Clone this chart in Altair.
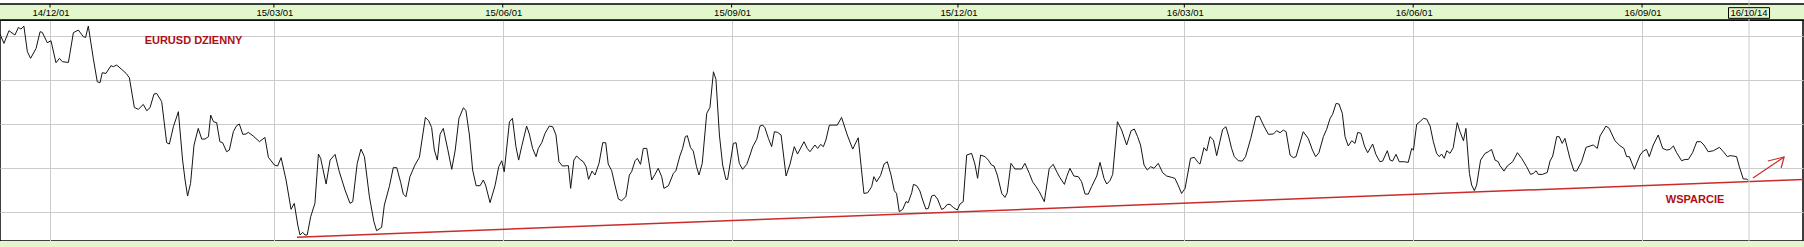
import altair as alt
import pandas as pd

# ---------------- data ----------------
# time is stored as days counted from 2014-12-01
days_a = [-20.1,-18.5,-16.5,-14.1,-12.7,-11.7,-10.5,-9.1,-7.8,-5.6,-4.0,-3.1,-1.1,0.4,2.4,3.8,5.0,7.4,9.4,11.4,13.4,14.3,15.4,17.4,19.0,20.1,21.0,22.5,24.5,25.5,26.8,28.8,30.6,31.9,33.9,35.5,37.5,38.9,40.2,41.8,42.9,44.9,46.9,48.0,49.6,51.6,53.3,54.3,55.3,56.5,57.9,59.6,61.0,62.3,63.7,64.6,65.7,67.0,68.3,69.4,71.0,72.1,73.7,75.0,76.1,77.5,78.8,79.7,81.7,84.2,86.4,87.8,90.2,91.5,92.9,94.9,96.9,98.2,99.6]
vals_a = [1.2418,1.2333,1.2448,1.2409,1.2478,1.2463,1.2490,1.2257,1.2197,1.2287,1.2439,1.2433,1.2339,1.2357,1.2157,1.2197,1.2166,1.2160,1.2430,1.2454,1.2394,1.2387,1.2490,1.2197,1.1984,1.1975,1.2066,1.2060,1.2130,1.2121,1.2136,1.2097,1.2060,1.2021,1.1751,1.1733,1.1778,1.1721,1.1748,1.1872,1.1878,1.1803,1.1430,1.1418,1.1575,1.1712,1.1272,1.1091,1.0945,1.1060,1.1409,1.1560,1.1463,1.1463,1.1485,1.1681,1.1621,1.1612,1.1439,1.1430,1.1348,1.1363,1.1530,1.1584,1.1600,1.1506,1.1509,1.1524,1.1491,1.1439,1.1478,1.1297,1.1227,1.1218,1.1294,1.1091,1.0824,1.0878,1.0682]

days_b = [100.5,101.6,102.5,103.4,104.8,106.5,107.9,108.8,111.0,112.6,114.6,116.3,118.6,120.6,121.7,123.5,125.0,126.4,128.4,130.2,131.3,133.3,134.4,136.4,138.0,139.4,141.0,142.0,143.1,144.7,146.7,148.5,150.9,152.2,153.4,154.5,155.7,156.8,158.1,159.9,161.5,162.9,164.4,166.2,167.2,168.6,169.9,171.3,172.9,174.2,175.1,176.9,178.9,180.4,181.6,182.6,184.7,185.9,187.3,188.4,189.6,191.6,192.7,194.0,195.4,196.3,197.7,199.0,200.7,202.1,203.4,204.6,206.0,207.7,208.4,209.3,210.6,211.7,213.1,214.4,215.5,216.5,217.9,219.1,220.7]
vals_b = [1.0591,1.0615,1.0591,1.0591,1.0757,1.0879,1.1327,1.1288,1.1054,1.1272,1.1324,1.1166,1.1000,1.0879,1.0894,1.1242,1.1372,1.1303,1.0939,1.0712,1.0630,1.0660,1.0863,1.1030,1.1203,1.1203,1.1066,1.0963,1.0939,1.1121,1.1227,1.1297,1.1660,1.1630,1.1569,1.1363,1.1272,1.1506,1.1560,1.1369,1.1188,1.1363,1.1651,1.1748,1.1721,1.1500,1.1182,1.1039,1.1039,1.1091,1.1045,1.0885,1.1039,1.1212,1.1266,1.1166,1.1621,1.1651,1.1394,1.1272,1.1394,1.1581,1.1509,1.1378,1.1303,1.1378,1.1430,1.1515,1.1581,1.1575,1.1500,1.1257,1.1218,1.1221,1.1221,1.1015,1.1272,1.1309,1.1278,1.1257,1.1212,1.1097,1.1172,1.1136,1.1242]

days_c = [222.2,223.4,224.4,225.8,227.1,228.5,229.8,231.5,232.9,233.8,235.2,236.1,237.4,238.5,239.9,241.9,243.2,244.5,245.9,246.8,248.6,250.6,251.6,253.2,254.3,255.4,256.2,257.5,258.6,259.9,260.9,262.2,264.0,265.3,266.7,267.7,269.1,270.4,271.7,272.4,274.7,275.8,277.1,278.4,280.1,281.4,282.5,284.1,285.4,286.5,287.4,288.8,290.1,291.2,292.5,293.9,295.9,297.5,299.2,300.5,303.1,304.4,305.5,307.5,308.6,309.8,310.9,311.9,313.3,314.9,316.5,318.2,320.5,322.7,324.9,327.2,328.7,330.3,331.2,332.3,333.9,335.3,336.6,338.1,339.4,340.3,341.4]
vals_c = [1.1430,1.1430,1.1236,1.1175,1.1045,1.0918,1.0903,1.0939,1.1136,1.1166,1.1266,1.1288,1.1233,1.1378,1.1378,1.1091,1.1142,1.1197,1.1121,1.1015,1.1039,1.1151,1.1175,1.1309,1.1378,1.1485,1.1494,1.1385,1.1354,1.1212,1.1136,1.1242,1.1697,1.1751,1.2075,1.2006,1.1500,1.1227,1.1097,1.1097,1.1424,1.1430,1.1242,1.1188,1.1233,1.1318,1.1394,1.1460,1.1581,1.1590,1.1566,1.1469,1.1394,1.1530,1.1524,1.1500,1.1127,1.1236,1.1394,1.1327,1.1439,1.1378,1.1348,1.1409,1.1378,1.1415,1.1394,1.1454,1.1590,1.1590,1.1590,1.1660,1.1500,1.1372,1.1475,1.0969,1.0975,1.1030,1.1121,1.1075,1.1133,1.1236,1.1257,1.1136,1.0994,1.0969,1.0803]

days_d = [342.8,344.1,345.0,346.4,347.1,348.4,349.7,350.8,352.1,353.1,354.4,355.5,356.8,358.4,359.4,360.7,361.8,363.1,364.7,365.8,367.1,368.5,370.5,371.8,372.9,374.1,375.9,377.2,378.5,379.5,380.8,382.6,383.9,384.8,386.3,387.9,389.7,390.6,391.9,393.7,395.0,396.4,397.7,399.7,401.7,403.3,404.9,406.0,407.8,408.7,410.0,411.6,413.4,414.7,416.1,417.4,418.7,420.8,422.1,423.7,424.8,426.1,427.2,429.1,430.8,432.8,434.6,435.9,437.2,438.4,439.8,441.1,442.5,443.8,445.5,447.3,448.9,450.9,452.2,453.3,454.9,456.3,458.5,460.0,461.6]
vals_d = [1.0824,1.0894,1.0885,1.0975,1.1051,1.1039,1.0991,1.0909,1.0827,1.0833,1.0945,1.0954,1.0918,1.0824,1.0833,1.0869,1.0869,1.0842,1.0818,1.0872,1.0894,1.1318,1.1333,1.1236,1.1106,1.1318,1.1303,1.1272,1.1227,1.1218,1.1136,1.0969,1.0933,1.0975,1.1242,1.1191,1.1191,1.1191,1.1242,1.1151,1.1075,1.1030,1.0985,1.0894,1.1197,1.1233,1.1157,1.1112,1.1051,1.1121,1.1197,1.1127,1.1121,1.1075,1.0963,1.0963,1.1030,1.1127,1.1251,1.1106,1.1054,1.1085,1.1142,1.1621,1.1545,1.1409,1.1539,1.1554,1.1485,1.1409,1.1227,1.1182,1.1212,1.1197,1.1242,1.1157,1.1127,1.1115,1.1106,1.1054,1.0969,1.1015,1.1288,1.1297,1.1248]

days_e = [462.3,463.9,465.0,466.3,467.7,469.0,471.4,472.7,473.7,475.0,476.1,477.7,479.3,480.6,482.7,484.8,486.1,488.0,489.8,491.8,493.1,494.5,495.8,496.9,498.5,499.8,500.9,503.8,505.8,507.5,508.8,510.1,511.9,513.2,514.6,515.6,517.0,518.2,519.5,520.6,521.9,523.3,524.6,525.7,527.0,528.4,529.7,531.7,533.0,534.6,535.7,537.6,538.7,539.7,541.1,542.4,544.4,546.0,547.4,548.1,549.4,550.7,552.1,553.4,554.8,556.1,557.4,558.5,559.4,560.5,561.5,562.8,564.1,565.7,566.8,568.2,569.2,570.6,571.5,572.6,573.5,575.1,576.9,578.2,579.5,580.9,582.2]
vals_e = [1.1236,1.1385,1.1354,1.1485,1.1454,1.1312,1.1551,1.1575,1.1500,1.1378,1.1303,1.1266,1.1263,1.1303,1.1469,1.1666,1.1672,1.1581,1.1506,1.1509,1.1539,1.1521,1.1545,1.1530,1.1318,1.1294,1.1303,1.1530,1.1469,1.1363,1.1303,1.1339,1.1485,1.1551,1.1651,1.1688,1.1787,1.1781,1.1697,1.1485,1.1400,1.1448,1.1424,1.1524,1.1515,1.1400,1.1339,1.1418,1.1324,1.1257,1.1263,1.1357,1.1272,1.1263,1.1324,1.1257,1.1257,1.1251,1.1378,1.1363,1.1597,1.1621,1.1651,1.1645,1.1581,1.1439,1.1333,1.1303,1.1327,1.1288,1.1357,1.1333,1.1385,1.1612,1.1530,1.1448,1.1560,1.1151,1.1045,1.0994,1.1045,1.1272,1.1333,1.1348,1.1369,1.1272,1.1257]

days_f = [582.9,584.5,585.8,588.0,589.9,591.6,593.6,595.2,596.3,597.4,598.3,600.0,601.9,603.0,604.1,605.7,606.7,607.9,609.0,611.0,612.6,613.7,615.7,617.5,619.1,620.4,622.0,623.1,625.5,626.8,629.1,631.1,632.7,633.8,634.9,636.9,639.2,640.5,641.8,642.9,644.5,646.5,648.3,649.9,651.2,652.6,653.9,655.9,657.3,658.6,660.3,662.0,663.6,664.9,666.6,668.7,671.1,672.7,674.3,675.4,676.7,678.0,679.1,680.7,682.1,682.7]
vals_f = [1.1221,1.1172,1.1218,1.1257,1.1339,1.1288,1.1212,1.1142,1.1151,1.1175,1.1142,1.1142,1.1160,1.1263,1.1309,1.1485,1.1485,1.1424,1.1469,1.1288,1.1175,1.1172,1.1257,1.1388,1.1400,1.1409,1.1378,1.1491,1.1581,1.1560,1.1448,1.1403,1.1378,1.1303,1.1303,1.1188,1.1318,1.1354,1.1369,1.1303,1.1409,1.1500,1.1378,1.1363,1.1369,1.1400,1.1339,1.1266,1.1278,1.1278,1.1339,1.1439,1.1439,1.1409,1.1348,1.1357,1.1388,1.1348,1.1303,1.1312,1.1309,1.1303,1.1212,1.1100,1.1100,1.1085]

tick_dates = ["2014-12-01", "2015-03-01", "2015-06-01", "2015-09-01",
              "2015-12-01", "2016-03-01", "2016-06-01", "2016-09-01"]
current_date = "2016-10-14"
grid_values = [1.08, 1.12, 1.16, 1.20, 1.24]

support_days = [99.3, 704.7]
support_vals = [1.0570, 1.1096]
arrow_days = [684.6, 697.1, 690.6, 697.1, 695.9]
arrow_vals = [1.1109, 1.1300, 1.1264, 1.1300, 1.1200]
arrow_part = ["shaft", "shaft", "head", "head", "head"]

note_texts = ["EURUSD DZIENNY", "WSPARCIE"]
note_days = [57.7, 661.3]
note_vals = [1.2352, 1.0912]

x_range_days = [-20.1, 704.7]
y_range = [1.053636, 1.254545]

# ---------------- build tables ----------------
seg_days = [days_a, days_b, days_c, days_d, days_e, days_f]
seg_vals = [vals_a, vals_b, vals_c, vals_d, vals_e, vals_f]
for i, (d, v) in enumerate(zip(seg_days, seg_vals)):
    assert len(d) == len(v), (i, len(d), len(v))
day_offsets = sum(seg_days, [])
close_values = sum(seg_vals, [])

base = pd.Timestamp("2014-12-01")


def to_ts(d):
    return base + pd.Timedelta(days=d)


def to_dt(ts):
    return alt.DateTime(year=ts.year, month=ts.month, date=ts.day,
                        hours=ts.hour, minutes=ts.minute, seconds=ts.second)


price = pd.DataFrame({"date": [to_ts(d) for d in day_offsets], "close": close_values})
support = pd.DataFrame({"date": [to_ts(d) for d in support_days], "close": support_vals})
arrow = pd.DataFrame({"date": [to_ts(d) for d in arrow_days], "close": arrow_vals,
                      "part": arrow_part, "order": list(range(len(arrow_days)))})
notes = pd.DataFrame({"date": [to_ts(d) for d in note_days], "close": note_vals,
                      "text": note_texts})
ticks = pd.DataFrame({"date": pd.to_datetime(tick_dates)})
current = pd.DataFrame({"date": pd.to_datetime([current_date])})
band = pd.DataFrame({"k": [0]})

GREEN = "#e2f7cc"
GRID = "#cccccc"
RED = "#cc2b2b"
TEXTRED = "#b00e14"
FONT = "Liberation Sans, Arial, sans-serif"

x_scale = alt.Scale(domain=[to_dt(to_ts(x_range_days[0])), to_dt(to_ts(x_range_days[1]))])
y_scale = alt.Scale(domain=y_range, zero=False, nice=False)

x_enc = alt.X("date:T", scale=x_scale,
              axis=alt.Axis(orient="top", values=[to_dt(pd.Timestamp(t)) for t in tick_dates],
                            labels=False, ticks=False, domain=False, grid=True,
                            gridColor=GRID, gridWidth=1, title=None))
y_enc = alt.Y("close:Q", scale=y_scale,
              axis=alt.Axis(values=grid_values, labels=False, ticks=False, domain=False,
                            grid=True, gridColor=GRID, gridWidth=1, title=None))

top_band = alt.Chart(band).mark_rect(fill=GREEN, stroke="black", strokeWidth=1.5).encode(
    x=alt.value(-2), x2=alt.value(1805), y=alt.value(-16), y2=alt.value(0))
bottom_band = alt.Chart(band).mark_rect(fill=GREEN).encode(
    x=alt.value(-2), x2=alt.value(1805), y=alt.value(221), y2=alt.value(228))

line = alt.Chart(price).mark_line(color="#151515", strokeWidth=1.0).encode(x=x_enc, y=y_enc)

tick_marks = alt.Chart(ticks).mark_rule(color="black", strokeWidth=1).encode(
    x="date:T", y=alt.value(-16), y2=alt.value(-12.5))
tick_labels = alt.Chart(ticks).mark_text(font=FONT, fontSize=9.5, color="black",
                                         baseline="middle", align="center", dx=1).encode(
    x="date:T", y=alt.value(-7), text=alt.Text("date:T", format="%y/%m/%d"))

cur_rule = alt.Chart(current).mark_rule(color=GRID, strokeWidth=1).encode(
    x="date:T", y=alt.value(-20), y2=alt.value(221))
cur_box = alt.Chart(current).mark_point(
    shape="M-1,-0.26L1,-0.26L1,0.26L-1,0.26Z", size=1681, filled=True,
    fill=GREEN, stroke="black", strokeWidth=1, opacity=1).encode(
    x="date:T", y=alt.value(-7))
cur_rule_in_box = alt.Chart(current).mark_rule(color="#bbbbbb", strokeWidth=1).encode(
    x="date:T", y=alt.value(-12), y2=alt.value(-2))
cur_label = alt.Chart(current).mark_text(font=FONT, fontSize=9.5, color="black",
                                         baseline="middle", align="center").encode(
    x="date:T", y=alt.value(-7), text=alt.Text("date:T", format="%y/%m/%d"))

support_line = alt.Chart(support).mark_line(color=RED, strokeWidth=1.5).encode(
    x="date:T", y="close:Q")
arrow_line = alt.Chart(arrow).mark_line(color=RED, strokeWidth=1.2).encode(
    x="date:T", y="close:Q", detail="part:N", order="order:Q")

note_marks = alt.Chart(notes).mark_text(font=FONT, fontSize=11, fontWeight="bold",
                                        color=TEXTRED, baseline="middle", align="center").encode(
    x="date:T", y="close:Q", text="text:N")

chart = alt.layer(
    line, support_line, arrow_line, note_marks,
    top_band, bottom_band, cur_rule, tick_marks, tick_labels,
    cur_box, cur_rule_in_box, cur_label,
).properties(
    width=1803, height=221,
    padding={"left": 0, "top": 20, "right": 1, "bottom": 6},
    autosize=alt.AutoSizeParams(type="none"),
    background="white",
).configure_view(stroke="black", strokeWidth=1.5)

chart.save("out.html", embed_options={"renderer": "svg", "actions": False})
